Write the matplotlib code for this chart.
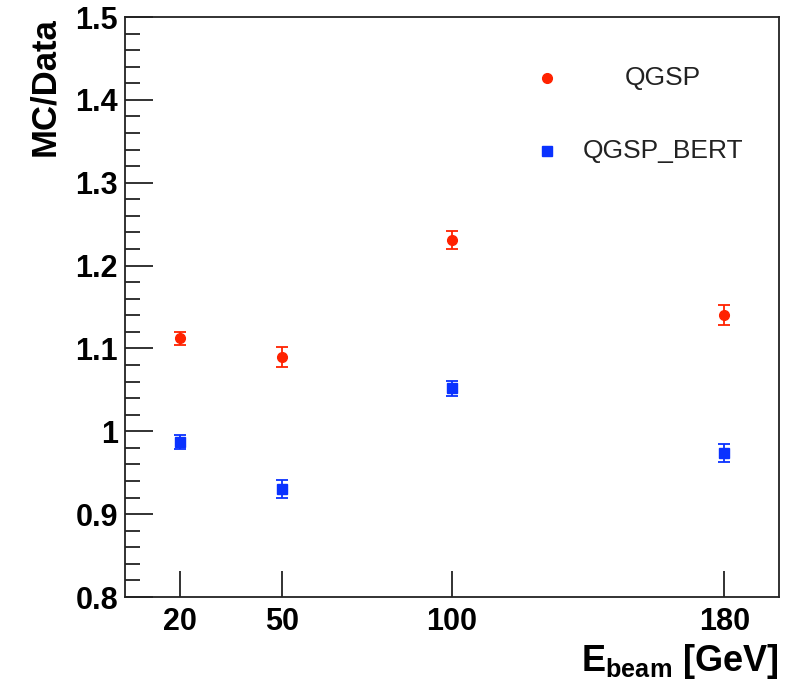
import numpy as np
import matplotlib
matplotlib.use("Agg")
import matplotlib.pyplot as plt
from matplotlib.ticker import MultipleLocator, FixedLocator

plt.rcParams['font.family'] = ['Liberation Sans', 'DejaVu Sans']
plt.rcParams['mathtext.fontset'] = 'custom'
plt.rcParams['mathtext.bf'] = 'Liberation Sans:bold'
plt.rcParams['mathtext.rm'] = 'Liberation Sans'

# beam energies (GeV)
energies = [20, 50, 100, 180]

# MC/Data ratios
qgsp = [1.112, 1.090, 1.231, 1.140]
qgsp_err = [0.008, 0.012, 0.011, 0.012]
qgsp_bert = [0.987, 0.930, 1.052, 0.974]
qgsp_bert_err = [0.008, 0.011, 0.009, 0.011]

red = '#ff2200'
blue = '#0a32ff'

fig = plt.figure(figsize=(7.87, 6.83), dpi=100)
ax = fig.add_axes([125 / 787, 1 - 597 / 683, 654 / 787, 580 / 683])

ax.errorbar(energies, qgsp, yerr=qgsp_err, fmt='o', color=red, ms=7,
            capsize=4, elinewidth=1.3, capthick=1.3, label='QGSP')
ax.errorbar(energies, qgsp_bert, yerr=qgsp_bert_err, fmt='s', color=blue, ms=7,
            capsize=4, elinewidth=1.3, capthick=1.3, label='QGSP_BERT')

ax.set_xlim(4, 196)
ax.set_ylim(0.8, 1.5)

ax.xaxis.set_major_locator(FixedLocator(energies))
ax.yaxis.set_major_locator(MultipleLocator(0.1))
ax.yaxis.set_minor_locator(MultipleLocator(0.02))
ax.yaxis.set_major_formatter(plt.FuncFormatter(lambda v, p: f'{v:g}'))

ax.tick_params(axis='both', which='both', direction='in', top=False, right=False,
               color='#222222', width=1.3)
ax.tick_params(axis='y', which='major', length=20, labelsize=22, pad=5)
ax.tick_params(axis='y', which='minor', length=11)
ax.tick_params(axis='x', which='major', length=19, labelsize=22, pad=7)
for lbl in ax.get_xticklabels() + ax.get_yticklabels():
    lbl.set_fontweight('bold')

for s in ax.spines.values():
    s.set_linewidth(1.3)
    s.set_color('#222222')

ax.set_ylabel('MC/Data', fontsize=25, fontweight='bold', loc='top', labelpad=10)
ax.set_xlabel(r'$\mathbf{E}_{\mathbf{beam}}$ [GeV]', fontsize=26, fontweight='bold',
              loc='right', labelpad=4)

# legend drawn ROOT-style: marker on left, centred text
leg_x_marker = 0.645
leg_x_text = 0.823
ax.plot([leg_x_marker], [0.895], 'o', color=red, ms=7, transform=ax.transAxes)
ax.text(leg_x_text, 0.895, 'QGSP', transform=ax.transAxes, fontsize=19,
        ha='center', va='center', color='#222222')
ax.plot([leg_x_marker], [0.769], 's', color=blue, ms=7, transform=ax.transAxes)
ax.text(leg_x_text, 0.769, 'QGSP_BERT', transform=ax.transAxes, fontsize=19,
        ha='center', va='center', color='#222222')

fig.savefig('out.png', dpi=100)
